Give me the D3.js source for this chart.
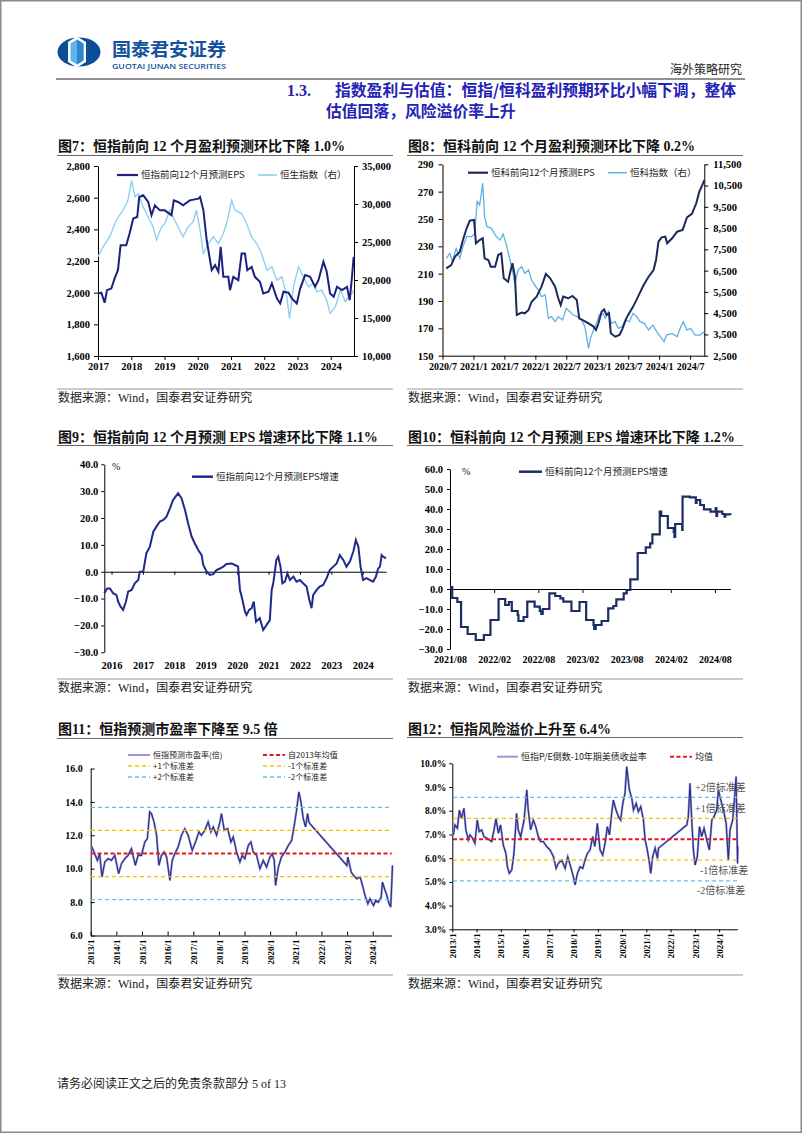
<!DOCTYPE html>
<html><head><meta charset="utf-8">
<script src="https://cdnjs.cloudflare.com/ajax/libs/d3/7.8.5/d3.min.js"></script>
<style>
html,body{margin:0;padding:0;background:#fff}
svg{display:block}
</style></head><body>
<svg id="page" width="802" height="1133" xmlns="http://www.w3.org/2000/svg"></svg>
<script>
// ---------------- DATA ----------------
// Chart 7: HSI forward 12m EPS (left) & Hang Seng Index (right)
const c7EpsX = [2017.00,2017.10,2017.20,2017.27,2017.40,2017.50,2017.60,2017.68,2017.85,2017.95,
2018.06,2018.18,2018.24,2018.36,2018.51,2018.61,2018.71,2018.86,2019.01,2019.21,
2019.28,2019.41,2019.56,2019.76,2020.02,2020.07,2020.17,2020.27,2020.42,2020.52,
2020.62,2020.69,2020.77,2020.92,2020.97,2021.07,2021.22,2021.32,2021.42,2021.49,
2021.62,2021.72,2021.87,2021.97,2022.13,2022.23,2022.38,2022.48,2022.58,2022.73,
2022.83,2022.98,2023.08,2023.23,2023.38,2023.53,2023.63,2023.78,2023.88,2023.98,
2024.09,2024.19,2024.34,2024.49,2024.57,2024.64,2024.69];
const c7Eps = [1995,2000,1936,2016,2026,2090,2142,2300,2300,2373,
2468,2478,2604,2615,2573,2489,2552,2520,2520,2489,
2583,2573,2552,2583,2594,2604,2520,2331,2142,2174,
2132,2289,2100,2100,2016,2100,2079,2247,2247,2142,
2163,2100,2069,1995,2006,2058,1964,1932,2006,2000,
1964,1932,2026,2111,2100,2037,2079,2195,2132,1995,
1974,2037,2016,2037,1953,2100,2226];
const c7HsiX = [2017.00,2017.15,2017.35,2017.55,2017.75,2017.90,2018.01,2018.11,2018.21,2018.36,
2018.51,2018.66,2018.76,2018.91,2019.01,2019.16,2019.31,2019.46,2019.56,2019.71,
2019.86,2019.96,2020.07,2020.17,2020.32,2020.47,2020.62,2020.77,2020.87,2021.02,
2021.12,2021.32,2021.47,2021.62,2021.77,2021.92,2022.08,2022.23,2022.38,2022.53,
2022.68,2022.76,2022.88,2023.03,2023.18,2023.33,2023.48,2023.58,2023.73,2023.88,
2023.98,2024.14,2024.29,2024.44,2024.54,2024.64,2024.69];
const c7Hsi = [23050,24360,25670,27860,29180,30490,33120,30930,31370,29610,
28300,26990,25240,26990,27430,29180,27860,26550,25670,26990,
27640,29180,26550,23490,24800,25670,24800,26110,27430,30490,
29180,28740,27430,25670,24800,23490,21300,21740,19980,20420,
17790,14950,19110,21740,20420,19110,19550,18450,18670,17360,
15610,16480,18670,17140,17790,18230,18670];
const c7XTicks = [2017,2018,2019,2020,2021,2022,2023,2024];
const c7LTicks = [1600,1800,2000,2200,2400,2600,2800];
const c7RTicks = [10000,15000,20000,25000,30000,35000];

// Chart 8: HSTECH forward 12m EPS (left) & HSTECH index (right)
const c8EpsX = [2020.56,2020.64,2020.70,2020.78,2020.83,2020.89,2020.94,2021.01,2021.04,2021.10,
2021.15,2021.18,2021.24,2021.28,2021.35,2021.40,2021.45,2021.49,2021.56,2021.59,
2021.63,2021.67,2021.70,2021.78,2021.83,2021.89,2021.94,2022.02,2022.10,2022.17,
2022.24,2022.32,2022.37,2022.41,2022.45,2022.53,2022.60,2022.67,2022.71,2022.78,
2022.86,2022.94,2022.98,2023.02,2023.07,2023.11,2023.15,2023.19,2023.22,2023.29,
2023.36,2023.41,2023.47,2023.50,2023.58,2023.66,2023.75,2023.83,2023.91,2023.95,
2023.99,2024.04,2024.10,2024.13,2024.21,2024.29,2024.38,2024.45,2024.53,2024.60,
2024.65,2024.71,2024.73];
const c8Eps = [213.9,216.3,222.4,226.1,234.6,243.2,248.8,249.3,232.2,234.6,
235.9,221.2,220.0,215.1,215.1,223.7,224.9,206.6,204.1,210.3,
217.6,207.8,179.8,181.5,181.0,183.4,189.5,193.2,200.5,209.8,
206.6,200.5,192.0,187.1,193.2,192.0,193.7,190.7,177.3,175.6,
173.7,171.3,168.8,173.7,182.2,183.9,179.8,181.0,166.4,163.9,
165.2,170.0,177.3,179.8,185.9,193.2,201.7,207.8,212.7,220.0,
233.4,236.6,237.1,232.2,235.9,240.7,242.0,251.2,253.7,261.5,
270.0,276.1,278.5];
const c8IdxX = [2020.56,2020.62,2020.66,2020.72,2020.78,2020.83,2020.89,2020.97,2021.02,2021.06,
2021.10,2021.15,2021.18,2021.22,2021.29,2021.37,2021.43,2021.48,2021.54,2021.59,
2021.63,2021.67,2021.72,2021.78,2021.83,2021.89,2021.94,2021.99,2022.05,2022.10,
2022.16,2022.21,2022.26,2022.32,2022.37,2022.44,2022.50,2022.56,2022.61,2022.68,
2022.75,2022.80,2022.86,2022.89,2022.94,2022.99,2023.03,2023.09,2023.13,2023.18,
2023.23,2023.29,2023.34,2023.40,2023.45,2023.52,2023.58,2023.64,2023.69,2023.76,
2023.83,2023.90,2023.96,2024.02,2024.08,2024.12,2024.21,2024.29,2024.35,2024.39,
2024.45,2024.51,2024.58,2024.66,2024.73];
const c8Idx = [7078,7314,6922,7549,7078,7627,8098,8098,8254,9744,
9587,10606,9039,8568,8490,8098,7941,8223,7627,7000,
6530,5873,6530,6686,6373,6530,6059,5824,5589,5275,
5354,4256,4334,4099,4334,4178,4727,4570,4413,4334,
4178,3864,2845,3315,3707,4021,4413,4492,4256,4570,
4021,4099,3786,3864,4178,4099,4492,4334,4099,4021,
3707,3943,3629,3394,3158,3472,3550,3394,3864,4099,
3707,3786,3472,3472,3629];
const c8XTicks = [2020.5,2021,2021.5,2022,2022.5,2023,2023.5,2024,2024.5];
const c8XLabels = ['2020/7','2021/1','2021/7','2022/1','2022/7','2023/1','2023/7','2024/1','2024/7'];
const c8LTicks = [150,170,190,210,230,250,270,290];
const c8RTicks = [2500,3500,4500,5500,6500,7500,8500,9500,10500,11500];

// Chart 9: HSI forward 12m EPS growth (%)
const c9X = [2015.77,2015.86,2015.95,2016.05,2016.16,2016.21,2016.29,2016.37,2016.46,2016.53,
2016.64,2016.74,2016.85,2016.90,2017.01,2017.11,2017.22,2017.33,2017.43,2017.54,
2017.65,2017.75,2017.86,2017.96,2018.12,2018.23,2018.34,2018.44,2018.55,2018.65,
2018.76,2018.87,2018.92,2019.03,2019.13,2019.24,2019.34,2019.45,2019.56,2019.66,
2019.82,2019.93,2020.03,2020.09,2020.17,2020.25,2020.30,2020.38,2020.46,2020.53,
2020.60,2020.72,2020.83,2020.94,2021.04,2021.10,2021.15,2021.25,2021.31,2021.38,
2021.44,2021.52,2021.60,2021.68,2021.79,2021.89,2022.00,2022.10,2022.21,2022.30,
2022.37,2022.42,2022.53,2022.63,2022.74,2022.85,2022.95,2023.06,2023.17,2023.27,
2023.38,2023.48,2023.59,2023.70,2023.78,2023.86,2023.93,2024.01,2024.12,2024.23,
2024.33,2024.42,2024.49,2024.55,2024.60,2024.65,2024.74];
const c9Y = [-8.0,-6.2,-6.2,-8.0,-8.7,-11.1,-13.0,-14.2,-11.1,-7.4,
-6.8,-4.3,-3.1,0.0,0.0,6.9,9.3,14.9,16.8,18.7,
19.3,20.5,23.6,26.7,29.2,27.3,23.0,18.0,13.1,10.6,
8.1,6.2,2.5,0.0,-1.2,-0.9,0.6,1.2,1.9,2.9,
3.1,2.5,1.9,-6.8,-10.5,-14.9,-16.1,-14.2,-13.6,-11.1,
-18.6,-17.3,-21.7,-19.8,-18.0,-6.8,-4.3,4.4,5.6,1.9,
-4.3,-3.7,-0.6,-3.1,-1.8,-3.7,-3.1,-4.3,-5.5,-10.5,
-13.6,-8.7,-6.8,-5.5,-4.9,-2.4,0.6,1.9,3.1,6.2,
4.4,1.9,3.8,7.5,11.8,9.3,1.9,-3.1,-2.4,-3.1,
-3.7,-1.8,1.2,1.9,6.2,5.6,5.0];
const c9XTicks = [2016,2017,2018,2019,2020,2021,2022,2023,2024];
const c9YTicks = [-30,-20,-10,0,10,20,30,40];

// Chart 10: HSTECH forward 12m EPS growth (%), month offset from 2021/08
const c10M = [0,0.3,1.0,1.5,2.4,3.5,4.6,5.5,6.6,7.5,
8.0,8.4,9.2,9.3,10.0,10.5,11.5,12.2,12.4,12.6,
13.5,14.3,15.0,15.4,16.5,17.6,18.5,19.5,19.6,19.8,
20.6,21.5,22.2,22.6,23.6,24.0,24.5,25.5,26.6,27.2,
27.5,28.5,28.7,29.6,30.4,30.5,30.6,31.5,31.55,31.6,
32.6,33.4,33.5,34.0,34.5,35.4,36.1,36.2,36.3,37.0,
37.3,37.4,38.1];
const c10Y = [1.0,-4.5,-6.5,-19,-22.5,-25.5,-23,-15.5,-5,-8,
-6.5,-11,-13,-16,-14,-6.3,-8.8,-11,-12.5,-10,
-2.2,-3.5,-4.7,-6.3,-11,-6.5,-15.5,-18,-20,-18,
-16,-9.7,-8.5,-5.2,-2.2,-0.5,4.8,18,20.8,22.8,
27.3,38.7,36.5,30.5,28.5,26,32.5,32.5,29.5,46.2,
45.8,43,44.5,42,39.8,38.7,40.5,36.5,38.7,37.5,
36.2,37.3,37];
const c10XTicks = [0,6,12,18,24,30,36];
const c10XLabels = ['2021/08','2022/02','2022/08','2023/02','2023/08','2024/02','2024/08'];
const c10YTicks = [-30,-20,-10,0,10,20,30,40,50,60];

// Chart 11: HSI forward P/E
const c11X = [2013.03,2013.13,2013.26,2013.35,2013.44,2013.55,2013.68,2013.81,2013.94,2014.09,
2014.20,2014.33,2014.46,2014.59,2014.74,2014.85,2014.98,2015.11,2015.21,2015.30,
2015.37,2015.47,2015.57,2015.66,2015.76,2015.86,2015.96,2016.09,2016.18,2016.28,
2016.41,2016.54,2016.67,2016.80,2016.96,2017.09,2017.22,2017.32,2017.45,2017.58,
2017.69,2017.78,2017.91,2018.04,2018.10,2018.21,2018.34,2018.47,2018.56,2018.69,
2018.82,2018.91,2019.01,2019.15,2019.25,2019.34,2019.47,2019.60,2019.73,2019.86,
2019.99,2020.08,2020.16,2020.21,2020.32,2020.44,2020.58,2020.71,2020.84,2020.94,
2021.03,2021.12,2021.20,2021.29,2021.38,2021.46,2021.51,2021.55,2022.99,2023.03,
2023.16,2023.25,2023.38,2023.51,2023.60,2023.70,2023.81,2023.89,2024.03,2024.12,
2024.22,2024.33,2024.38,2024.46,2024.55,2024.64,2024.70,2024.74,2024.77];
const c11Y = [11.34,11.0,10.5,10.9,9.5,10.4,10.6,10.5,10.8,9.7,
10.3,10.6,10.8,11.2,10.2,10.8,10.8,11.6,11.8,13.4,
13.3,12.8,12.0,10.2,10.8,11.0,10.7,9.3,10.5,10.9,
11.3,12.0,12.4,12.0,11.1,11.6,12.2,12.0,12.3,12.8,
12.2,12.5,12.0,12.8,13.3,12.3,12.4,11.6,11.9,11.0,
10.4,10.8,10.6,11.4,11.6,11.0,10.8,10.0,10.5,10.1,
10.7,10.9,10.5,9.0,10.1,10.7,11.0,11.4,11.7,12.6,
13.5,14.6,14.0,13.0,12.5,13.3,12.8,12.7,10.2,10.7,
9.8,9.6,9.4,9.5,9.0,8.4,7.9,8.2,7.8,8.1,
8.0,8.3,9.2,8.8,8.4,7.9,7.7,9.0,10.2];
const c11Ref = [10.91, 12.29, 9.53, 13.67, 8.15]; // mean, +1sd, -1sd, +2sd, -2sd
const c11XTicks = [2013,2014,2015,2016,2017,2018,2019,2020,2021,2022,2023,2024];
const c11YTicks = [6,8,10,12,14,16];

// Chart 12: HSI risk premium (%)
const c12X = [2013.04,2013.11,2013.21,2013.29,2013.38,2013.48,2013.56,2013.66,2013.73,2013.84,
2013.93,2014.03,2014.11,2014.21,2014.31,2014.42,2014.53,2014.62,2014.72,2014.80,
2014.90,2014.99,2015.10,2015.21,2015.27,2015.35,2015.45,2015.54,2015.65,2015.72,
2015.82,2015.96,2016.07,2016.13,2016.23,2016.34,2016.44,2016.55,2016.64,2016.75,
2016.89,2017.03,2017.17,2017.28,2017.37,2017.51,2017.65,2017.76,2017.88,2017.99,
2018.06,2018.16,2018.27,2018.38,2018.47,2018.57,2018.68,2018.79,2018.88,2018.98,
2019.09,2019.20,2019.30,2019.39,2019.48,2019.57,2019.64,2019.75,2019.85,2019.94,
2020.03,2020.12,2020.19,2020.30,2020.40,2020.47,2020.58,2020.67,2020.77,2020.88,
2020.95,2021.04,2021.13,2021.18,2021.26,2021.36,2021.46,2021.50,2022.67,2022.73,
2022.80,2022.87,2022.94,2023.01,2023.10,2023.19,2023.28,2023.38,2023.49,2023.60,
2023.70,2023.79,2023.90,2023.97,2024.07,2024.18,2024.29,2024.38,2024.45,2024.56,
2024.63,2024.70,2024.76,2024.77];
const c12Y = [6.98,7.40,7.26,8.03,7.68,8.10,7.19,6.77,6.98,6.84,
6.63,7.61,7.12,7.19,6.90,6.84,6.77,6.70,7.19,7.68,
7.05,7.40,6.56,6.20,5.64,5.36,5.50,6.20,7.89,7.19,
6.90,7.61,8.88,8.03,7.19,7.61,7.33,6.90,6.70,6.70,
6.49,6.35,6.06,5.57,5.78,5.92,5.57,6.06,5.64,5.22,
4.87,5.36,5.64,5.57,5.92,6.20,6.35,6.91,6.49,7.47,
6.35,6.13,6.63,7.33,6.98,7.89,8.45,8.03,7.75,7.61,
8.31,8.73,9.86,8.88,8.52,8.03,8.31,7.96,8.17,7.61,
6.77,6.35,5.78,5.36,6.06,6.42,5.99,6.42,7.40,7.75,
9.16,7.61,6.35,5.71,6.06,7.33,6.91,7.26,6.77,6.35,
7.61,7.75,8.03,8.88,8.45,8.03,7.47,5.92,7.19,7.61,
8.45,9.44,5.78,6.50];
const c12Ref = [6.80, 7.68, 5.92, 8.56, 5.04]; // mean, +1sd, -1sd, +2sd, -2sd
const c12XTicks = [2013,2014,2015,2016,2017,2018,2019,2020,2021,2022,2023,2024];
const c12YTicks = [3,4,5,6,7,8,9,10];

// ---------------- DRAW ----------------
const svg = d3.select('#page');
const SERIF = "'Liberation Serif','Noto Sans CJK SC',serif";
const CJK = "'Noto Sans CJK SC','Liberation Sans',sans-serif";

svg.append('rect').attr('x',0.75).attr('y',0.75).attr('width',800.5).attr('height',1131.5)
  .attr('fill','#fff').attr('stroke','#8a8a8a').attr('stroke-width',1.5);

// header logo
const logo = svg.append('g');
logo.append('ellipse').attr('cx',79).attr('cy',52).attr('rx',21.5).attr('ry',14.5).attr('fill','#0c4d96');
logo.append('path').attr('d','M77,36.5 L86,42 L86,62 L77,67.5 L68,62 L68,42 Z').attr('fill','#fff');
logo.append('path').attr('d','M77,39.5 L83.5,43.5 L83.5,60.5 L77,64.5 L70.5,60.5 L70.5,43.5 Z').attr('fill','#5db4ea');
logo.append('path').attr('d','M77,39.5 L83.5,43.5 L83.5,60.5 L77,64.5 Z').attr('fill','#2f86cf');
svg.append('text').attr('x',112).attr('y',56).attr('font-family',CJK).attr('font-weight','bold')
  .attr('font-size',18).attr('fill','#14519e').attr('textLength',114).attr('lengthAdjust','spacingAndGlyphs').text('国泰君安证券');
svg.append('text').attr('x',112).attr('y',68.5).attr('font-family',"'Open Sans','DejaVu Sans',sans-serif").attr('font-weight','600')
  .attr('font-size',7).attr('fill','#14519e').attr('textLength',114).attr('lengthAdjust','spacingAndGlyphs').text('GUOTAI JUNAN SECURITIES');
svg.append('text').attr('x',742).attr('y',74).attr('text-anchor','end').attr('font-family',CJK)
  .attr('font-size',12).attr('fill','#222').text('海外策略研究');
svg.append('line').attr('x1',56).attr('x2',745).attr('y1',79).attr('y2',79).attr('stroke','#222').attr('stroke-width',1.2);
svg.append('text').attr('x',287).attr('y',96).attr('font-family',SERIF).attr('font-weight','bold')
  .attr('font-size',16).attr('fill','#2323b5').text('1.3.');
svg.append('text').attr('x',335).attr('y',96).attr('font-family',CJK).attr('font-weight','bold')
  .attr('font-size',15.8).attr('fill','#2323b5').text('指数盈利与估值：恒指/恒科盈利预期环比小幅下调，整体');
svg.append('text').attr('x',326).attr('y',117).attr('font-family',CJK).attr('font-weight','bold')
  .attr('font-size',15.8).attr('fill','#2323b5').text('估值回落，风险溢价率上升');

// footer
svg.append('text').attr('x',57).attr('y',1088).attr('font-family',SERIF).attr('font-size',12).attr('fill','#222')
  .text('请务必阅读正文之后的免责条款部分 5 of 13');

function chartTitle(x, y, lineY, txt){
  svg.append('text').attr('x',x).attr('y',y).attr('font-family',SERIF).attr('font-weight','bold')
    .attr('font-size',14).attr('fill','#111').text(txt);
  svg.append('line').attr('x1',x-1).attr('x2',x+335).attr('y1',lineY).attr('y2',lineY).attr('stroke','#666').attr('stroke-width',1);
}
function source(x, lineY){
  svg.append('line').attr('x1',x-1).attr('x2',x+335).attr('y1',lineY).attr('y2',lineY).attr('stroke','#999').attr('stroke-width',1);
  svg.append('text').attr('x',x).attr('y',lineY+13).attr('font-family',SERIF).attr('font-size',12).attr('fill','#222')
    .text('数据来源：Wind，国泰君安证券研究');
}
function styleAxis(g, fs){
  g.attr('font-family',"'Liberation Serif',serif").attr('font-weight','bold').attr('font-size',fs);
  g.select('.domain').attr('stroke','#000').attr('stroke-width',1);
  g.selectAll('.tick line').attr('stroke','#000');
  g.selectAll('.tick text').attr('fill','#000');
}
function legendItem(x1, x2, y, color, width, dash, label, fs){
  const l = svg.append('line').attr('x1',x1).attr('x2',x2).attr('y1',y).attr('y2',y)
    .attr('stroke',color).attr('stroke-width',width);
  if (dash) l.attr('stroke-dasharray',dash);
  svg.append('text').attr('x',x2+3).attr('y',y+3.2).attr('font-family',CJK).attr('font-size',fs||9.5)
    .attr('fill','#222').text(label);
}

// ----- Chart 7 -----
chartTitle(58, 150.5, 155.5, '图7：恒指前向 12 个月盈利预测环比下降 1.0%');
source(58, 389);
{
  const x = d3.scaleLinear().domain([2017, 2024.7]).range([98, 354]);
  const yL = d3.scaleLinear().domain([1600, 2800]).range([356, 166]);
  const yR = d3.scaleLinear().domain([10000, 35000]).range([356, 166]);
  svg.append('g').attr('transform','translate(98,0)')
    .call(d3.axisLeft(yL).tickValues(c7LTicks).tickFormat(d3.format(',')).tickSize(4).tickPadding(4).tickSizeOuter(0))
    .call(g=>styleAxis(g,10.5));
  svg.append('g').attr('transform','translate(354,0)')
    .call(d3.axisRight(yR).tickValues(c7RTicks).tickFormat(d3.format(',')).tickSize(4).tickPadding(4).tickSizeOuter(0))
    .call(g=>styleAxis(g,10.5));
  svg.append('g').attr('transform','translate(0,356)')
    .call(d3.axisBottom(x).tickValues(c7XTicks).tickFormat(d3.format('d')).tickSize(4).tickPadding(3).tickSizeOuter(0))
    .call(g=>styleAxis(g,10.5));
  svg.append('path').datum(c7Hsi).attr('fill','none').attr('stroke','#86cdf1').attr('stroke-width',1.3)
    .attr('d', d3.line().x((d,i)=>x(c7HsiX[i])).y(d=>yR(d)));
  svg.append('path').datum(c7Eps).attr('fill','none').attr('stroke','#1a2180').attr('stroke-width',2)
    .attr('d', d3.line().x((d,i)=>x(c7EpsX[i])).y(d=>yL(d)));
  legendItem(117, 138, 175, '#1a2180', 2.2, null, '恒指前向12个月预测EPS', 9.5);
  legendItem(258, 277, 175, '#86cdf1', 1.5, null, '恒生指数（右）', 9.5);
}

// ----- Chart 8 -----
chartTitle(408, 150.5, 155.5, '图8：恒科前向 12 个月盈利预测环比下降 0.2%');
source(408, 389);
{
  const x = d3.scaleLinear().domain([2020.5, 2024.73]).range([442.5, 704.3]);
  const yL = d3.scaleLinear().domain([150, 290]).range([355.7, 164.3]);
  const yR = d3.scaleLinear().domain([2500, 11500]).range([355.7, 164.3]);
  svg.append('g').attr('transform','translate(442.5,0)')
    .call(d3.axisLeft(yL).tickValues(c8LTicks).tickFormat(d3.format('d')).tickSize(4).tickPadding(5).tickSizeOuter(0))
    .call(g=>styleAxis(g,10.5));
  svg.append('g').attr('transform','translate(704.3,0)')
    .call(d3.axisRight(yR).tickValues(c8RTicks).tickFormat(d3.format(',')).tickSize(4).tickPadding(5).tickSizeOuter(0))
    .call(g=>styleAxis(g,10.5));
  svg.append('g').attr('transform','translate(0,355.7)')
    .call(d3.axisBottom(x).tickValues(c8XTicks).tickFormat((d,i)=>c8XLabels[i]).tickSize(4).tickPadding(3).tickSizeOuter(0))
    .call(g=>styleAxis(g,10));
  svg.append('path').datum(c8Idx).attr('fill','none').attr('stroke','#5fb0e4').attr('stroke-width',1.3)
    .attr('d', d3.line().x((d,i)=>x(c8IdxX[i])).y(d=>yR(d)));
  svg.append('path').datum(c8Eps).attr('fill','none').attr('stroke','#1b2a5e').attr('stroke-width',2)
    .attr('d', d3.line().x((d,i)=>x(c8EpsX[i])).y(d=>yL(d)));
  legendItem(468, 488, 172.7, '#1b2a5e', 2.2, null, '恒科前向12个月预测EPS', 9.5);
  legendItem(608, 627, 172.7, '#5fb0e4', 1.5, null, '恒科指数（右）', 9.5);
}

// ----- Chart 9 -----
chartTitle(58, 441.5, 445.5, '图9：恒指前向 12 个月预测 EPS 增速环比下降 1.1%');
source(58, 679);
{
  const x = d3.scaleLinear().domain([2015.77, 2024.74]).range([104.3, 386]);
  const y = d3.scaleLinear().domain([-30, 40]).range([652.3, 464.3]);
  svg.append('g').attr('transform','translate(104.3,0)')
    .call(d3.axisLeft(y).tickValues(c9YTicks).tickFormat(d3.format('.1f')).tickSize(3).tickPadding(3).tickSizeOuter(0))
    .call(g=>styleAxis(g,10.5));
  svg.append('g').attr('transform',`translate(0,${y(0)})`)
    .call(d3.axisBottom(x).tickValues(c9XTicks).tickFormat('').tickSize(3).tickSizeOuter(0))
    .call(g=>styleAxis(g,10.5));
  svg.append('g').attr('transform','translate(0,652.3)')
    .call(d3.axisBottom(x).tickValues(c9XTicks).tickFormat(d3.format('d')).tickSize(0).tickPadding(9))
    .call(g=>{styleAxis(g,10.5); g.select('.domain').remove();});
  svg.append('text').attr('x',112).attr('y',470).attr('font-family',SERIF).attr('font-size',10).attr('fill','#222').text('%');
  svg.append('path').datum(c9Y).attr('fill','none').attr('stroke','#1f2a8c').attr('stroke-width',2)
    .attr('d', d3.line().x((d,i)=>x(c9X[i])).y(d=>y(d)));
  legendItem(192, 213, 476.7, '#1f2a8c', 2.5, null, '恒指前向12个月预测EPS增速', 9.5);
}

// ----- Chart 10 -----
chartTitle(408, 441.5, 445.5, '图10：恒科前向 12 个月预测 EPS 增速环比下降 1.2%');
source(408, 679);
{
  const x = d3.scaleLinear().domain([0, 38.1]).range([450, 730.4]);
  const y = d3.scaleLinear().domain([-30, 60]).range([649, 469]);
  svg.append('g').attr('transform','translate(450,0)')
    .call(d3.axisLeft(y).tickValues(c10YTicks).tickFormat(d3.format('.1f')).tickSize(3).tickPadding(4).tickSizeOuter(0))
    .call(g=>styleAxis(g,10.5));
  svg.append('g').attr('transform',`translate(0,${y(0)})`)
    .call(d3.axisBottom(x).tickValues(c10XTicks).tickFormat('').tickSize(4).tickSizeOuter(0))
    .call(g=>styleAxis(g,10.5));
  svg.append('g').attr('transform','translate(0,649)')
    .call(d3.axisBottom(x).tickValues(c10XTicks).tickFormat((d,i)=>c10XLabels[i]).tickSize(0).tickPadding(7))
    .call(g=>{styleAxis(g,10); g.select('.domain').remove();});
  svg.append('text').attr('x',462).attr('y',475).attr('font-family',SERIF).attr('font-size',10).attr('fill','#222').text('%');
  svg.append('path').datum(c10Y).attr('fill','none').attr('stroke','#1b2d63').attr('stroke-width',2.2)
    .attr('d', d3.line().curve(d3.curveStepAfter).x((d,i)=>x(c10M[i])).y(d=>y(d)));
  legendItem(519, 542, 471.7, '#1b2d63', 2.5, null, '恒科前向12个月预测EPS增速', 9.5);
}

// ----- Chart 11 -----
chartTitle(58, 733.5, 738.5, '图11：恒指预测市盈率下降至 9.5 倍');
source(58, 975);
const refColors = ['#e31a1c','#f2c200','#f2c200','#5cc3e6','#5cc3e6'];
{
  const x = d3.scaleLinear().domain([2013, 2024.74]).range([90.7, 391.7]);
  const y = d3.scaleLinear().domain([6, 16]).range([935.5, 768.5]);
  svg.append('g').attr('transform','translate(90.7,0)')
    .call(d3.axisLeft(y).tickValues(c11YTicks).tickFormat(d3.format('.1f')).tickSizeInner(-4).tickSizeOuter(0).tickPadding(8))
    .call(g=>styleAxis(g,10));
  svg.append('g').attr('transform','translate(0,935.5)')
    .call(d3.axisBottom(x).tickValues(c11XTicks).tickFormat(d=>d+'/1').tickSizeInner(-4).tickSizeOuter(0))
    .call(g=>{styleAxis(g,9);
      g.selectAll('.tick text').attr('transform','rotate(-90)').attr('x',-4).attr('y',0).attr('dy','0.35em').attr('text-anchor','end');});
  const ln = d3.line().x((d,i)=>x(c11X[i])).y(d=>y(d));
  svg.append('path').datum(c11Y).attr('fill','none').attr('stroke','#9799d6').attr('stroke-width',2.2).attr('d', ln);
  svg.append('path').datum(c11Y).attr('fill','none').attr('stroke','#2a2e86').attr('stroke-width',1.1).attr('d', ln);
  c11Ref.forEach((v,i)=>{
    svg.append('line').attr('x1',91).attr('x2',391.7).attr('y1',y(v)).attr('y2',y(v))
      .attr('stroke',refColors[i]).attr('stroke-width', i===0?2:1.3).attr('stroke-dasharray', i===0?'4,2.5':'4,3');
  });
  legendItem(128, 150, 755, '#9799d6', 2, null, '恒指预测市盈率(倍)', 8);
  legendItem(263, 285, 755, '#e31a1c', 2, '4,2.5', '自2013年均值', 8);
  legendItem(128, 150, 766, '#f2c200', 1.3, '4,3', '+1个标准差', 8);
  legendItem(263, 285, 766, '#f2c200', 1.3, '4,3', '-1个标准差', 8);
  legendItem(128, 150, 777, '#5cc3e6', 1.3, '4,3', '+2个标准差', 8);
  legendItem(263, 285, 777, '#5cc3e6', 1.3, '4,3', '-2个标准差', 8);
}

// ----- Chart 12 -----
chartTitle(408, 733.5, 737.5, '图12：恒指风险溢价上升至 6.4%');
source(408, 975);
{
  const x = d3.scaleLinear().domain([2013, 2024.75]).range([452.3, 737.3]);
  const y = d3.scaleLinear().domain([3, 10]).range([929.3, 763.3]);
  svg.append('g').attr('transform','translate(452.3,0)')
    .call(d3.axisLeft(y).tickValues(c12YTicks).tickFormat(d=>d.toFixed(1)+'%').tickSize(3).tickSizeOuter(0).tickPadding(3))
    .call(g=>styleAxis(g,9.5));
  svg.append('g').attr('transform','translate(0,929.3)')
    .call(d3.axisBottom(x).tickValues(c12XTicks).tickFormat(d=>d+'/1').tickSize(3).tickSizeOuter(0))
    .call(g=>{styleAxis(g,9);
      g.selectAll('.tick text').attr('transform','rotate(-90)').attr('x',-4).attr('y',0).attr('dy','0.35em').attr('text-anchor','end');});
  const ln = d3.line().x((d,i)=>x(c12X[i])).y(d=>y(d));
  svg.append('path').datum(c12Y).attr('fill','none').attr('stroke','#9799d6').attr('stroke-width',2.2).attr('d', ln);
  svg.append('path').datum(c12Y).attr('fill','none').attr('stroke','#2a2e86').attr('stroke-width',1.1).attr('d', ln);
  c12Ref.forEach((v,i)=>{
    svg.append('line').attr('x1',453).attr('x2',737.3).attr('y1',y(v)).attr('y2',y(v))
      .attr('stroke',refColors[i]).attr('stroke-width', i===0?2:1.3).attr('stroke-dasharray', i===0?'4,2.5':'4,3');
  });
  const ann = [['+2倍标准差',695,790.5],['+1倍标准差',695,811.5],['-1倍标准差',700,873.5],['-2倍标准差',697,893.5]];
  ann.forEach(a=>svg.append('text').attr('x',a[1]).attr('y',a[2]).attr('font-family',SERIF).attr('font-size',10)
    .attr('fill','#555').text(a[0]));
  legendItem(497, 518, 756.7, '#9799d6', 2, null, '恒指P/E倒数-10年期美债收益率', 9);
  legendItem(670, 692, 756.7, '#e31a1c', 2, '4,2.5', '均值', 9);
}
</script></body></html>
